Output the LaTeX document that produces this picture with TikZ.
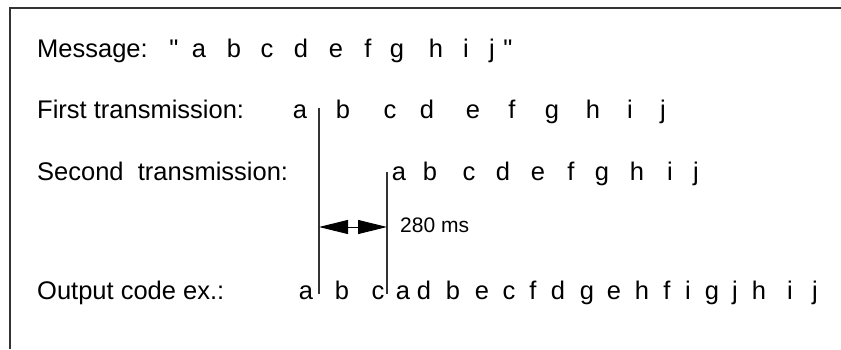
\documentclass[tikz,border=0pt]{standalone}
\usepackage{fontspec}
\setmainfont{Liberation Sans}
\newfontfamily\qfont{Liberation Sans}
\usetikzlibrary{arrows.meta}
\begin{document}
\begin{tikzpicture}[x=1pt,y=-1pt,
  lbl/.style={anchor=base west,inner sep=0pt,font=\fontsize{25.5}{30}\selectfont},
  letter/.style={anchor=base,inner sep=0pt,font=\fontsize{25.5}{30}\selectfont},
  small/.style={anchor=base west,inner sep=0pt,font=\fontsize{21}{25}\selectfont},
  frame/.style={line width=2pt,draw=black!80},
  marker/.style={line width=1.6pt,draw=black!80},
  dim/.style={line width=1pt,-{Triangle[length=29pt,width=14pt]}}]
\useasboundingbox (0,0) rectangle (841,349);
% frame (only top and left edges visible)
\coordinate (fbl) at (10,349);
\coordinate (ftl) at (10,8);
\coordinate (ftr) at (841,8);
\draw[frame] (fbl) -- (ftl) -- (ftr);
% row labels
\node[lbl] (lmsg) at (37,57) {Message:};
\node[lbl] (lfirst) at (37,118) {First transmission:};
\node[lbl] (lsecond) at (37,180) {Second\ \ transmission:};
\node[lbl] (lout) at (37,299) {Output code ex.:};
% message row
\node[letter] (mq1) at (174,57) {\qfont "};
\foreach \ch/\x [count=\i] in {a/199,b/234,c/267,d/301,e/336,f/368,g/397,h/436,i/466,j/492}
  \node[letter] (m\i) at (\x,57) {\ch};
\node[letter] (mq2) at (508,57) {\qfont "};
% first transmission
\foreach \ch/\x [count=\i] in {a/300,b/343,c/390,d/427,e/473,f/512,g/552,h/593,i/630,j/663}
  \node[letter] (f\i) at (\x,118) {\ch};
% second transmission
\foreach \ch/\x [count=\i] in {a/399,b/430,c/469,d/503,e/538,f/571,g/602,h/637,i/670,j/696}
  \node[letter] (s\i) at (\x,180) {\ch};
% output code
\foreach \ch/\x [count=\i] in {a/306,b/342,c/378,a/403,d/424,b/453,e/482,c/509,f/533,d/558,g/587,e/614,h/642,f/667,i/688,g/712,j/735,h/759,i/790,j/815}
  \node[letter] (o\i) at (\x,299) {\ch};
% vertical markers
\coordinate (t1) at (319,108);
\coordinate (b1) at (319,294);
\coordinate (t2) at (387,172);
\coordinate (b2) at (387,294);
\draw[marker] (t1) -- (b1);
\draw[marker] (t2) -- (b2);
% 280 ms dimension
\coordinate (amid) at (352.5,227);
\coordinate (aleft) at (319,227);
\coordinate (aright) at (387,227);
\draw[dim] (amid) -- (aleft);
\draw[dim] (amid) -- (aright);
\node[small] (ms) at (400,232) {280 ms};
\end{tikzpicture}
\end{document}
